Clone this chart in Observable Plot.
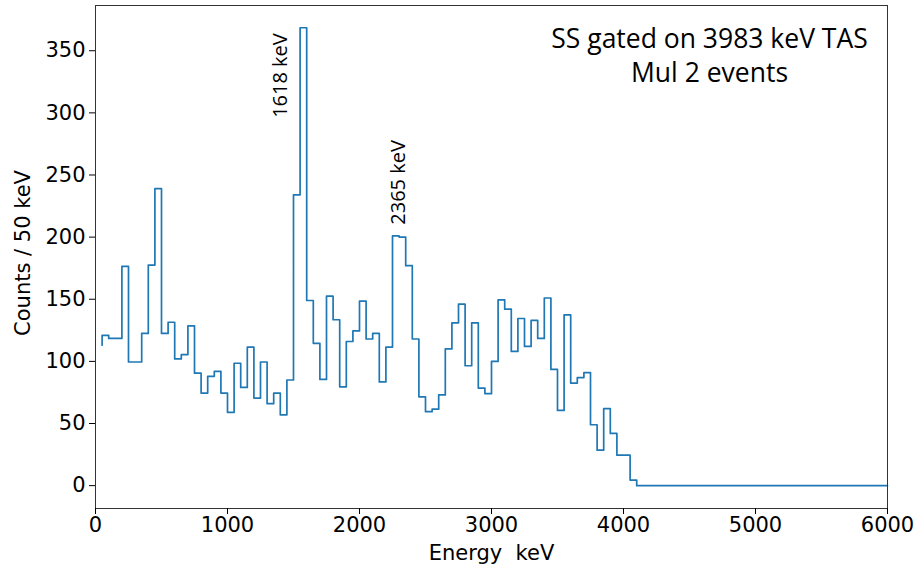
<!DOCTYPE html>
<html>
<head>
<meta charset="utf-8">
<script src="https://cdn.jsdelivr.net/npm/d3@7"></script>
<script src="https://cdn.jsdelivr.net/npm/@observablehq/plot@0.6"></script>
<style>
  body { margin: 0; background: #fff; }
  #chart svg { display: block; }
</style>
</head>
<body>
<div id="chart"></div>
<script>
// Counts per 50 keV bin; value i is the upper edge (i+1)*50 keV of the step
const counts = [
  113, 121, 118.5, 118.5, 176.5, 99.5, 99.5, 122.5, 177.5, 239,
  122.5, 131.5, 102, 105.5, 128.5, 90.5, 74.5, 88, 92, 74.5,
  59, 98.5, 79, 111.5, 70.5, 99.5, 66, 74.5, 57, 85,
  234, 368.5, 149, 114.5, 85.5, 152.5, 133.5, 79.5, 116, 124.5,
  148.5, 118, 122.5, 83.5, 111.5, 201, 200, 177, 118, 71.5,
  59.5, 61.5, 73, 110, 131, 146, 96.5, 131, 78.5, 74,
  100, 149.5, 142, 108, 134.5, 112, 133, 118.5, 151, 93.5,
  60.5, 137.5, 82.5, 87, 91, 49, 28.5, 62, 42, 24.5,
  24.5, 4.5, 0, 0, 0, 0, 0, 0, 0, 0,
  0, 0, 0, 0, 0, 0, 0, 0, 0, 0,
  0, 0, 0, 0, 0, 0, 0, 0, 0, 0,
  0, 0, 0, 0, 0, 0, 0, 0, 0, 0
];
const binWidth = 50;
const binEdges = counts.map((_, i) => (i + 1) * binWidth);

const xTicks = [0, 1000, 2000, 3000, 4000, 5000, 6000];
const yTicks = [0, 50, 100, 150, 200, 250, 300, 350];

const xLabel = "Energy\u00a0 keV";
const yLabel = "Counts / 50 keV";
const titleLines = ["SS gated on 3983 keV TAS", "Mul 2 events"];

const annotationText = ["1618 keV", "2365 keV"];
const annotationEnergy = [1405, 2299];
const annotationCount = [296, 210];

const data = counts.map((c, i) => ({ energy: binEdges[i], count: c }));
const annotations = annotationText.map((t, i) => ({ text: t, energy: annotationEnergy[i], count: annotationCount[i] }));

const chart = Plot.plot({
  width: 917,
  height: 569,
  marginLeft: 95,
  marginRight: 30,
  marginTop: 5,
  marginBottom: 61,
  style: { fontFamily: "DejaVu Sans", fontSize: "20px", color: "black", background: "white" },
  x: { domain: [0, 6000] },
  y: { domain: [-18.4, 386.4] },
  marks: [
    Plot.lineY(data, { x: "energy", y: "count", curve: "step-before", stroke: "#1f77b4", strokeWidth: 1.7 }),
    Plot.frame({ stroke: "#333", strokeWidth: 1 }),
    Plot.axisX({ ticks: xTicks, tickFormat: d => String(d), tickSize: 6, tickPadding: 3, fontSize: 21, label: null }),
    Plot.axisY({ ticks: yTicks, tickFormat: d => String(d), tickSize: 6, tickPadding: 4, fontSize: 21, label: null }),
    Plot.text([xLabel], { frameAnchor: "bottom", dy: 45, textAnchor: "middle", lineAnchor: "middle", fontSize: 21, fill: "black" }),
    Plot.text([yLabel], { frameAnchor: "left", dx: -72, dy: -4, rotate: -90, textAnchor: "middle", lineAnchor: "middle", fontSize: 21, fill: "black" }),
    Plot.text([titleLines.join("\n")], {
      frameAnchor: "top-right", dx: -178, dy: 18, textAnchor: "middle", lineAnchor: "top",
      lineHeight: 1.3, fontSize: 26.5, fontFamily: "Open Sans", fill: "black"
    }),
    Plot.text(annotations, {
      x: "energy", y: "count", text: "text", rotate: -90, textAnchor: "start",
      fontSize: 20, fontFamily: "Open Sans", fill: "black"
    })
  ]
});
document.getElementById("chart").appendChild(chart);
</script>
</body>
</html>
